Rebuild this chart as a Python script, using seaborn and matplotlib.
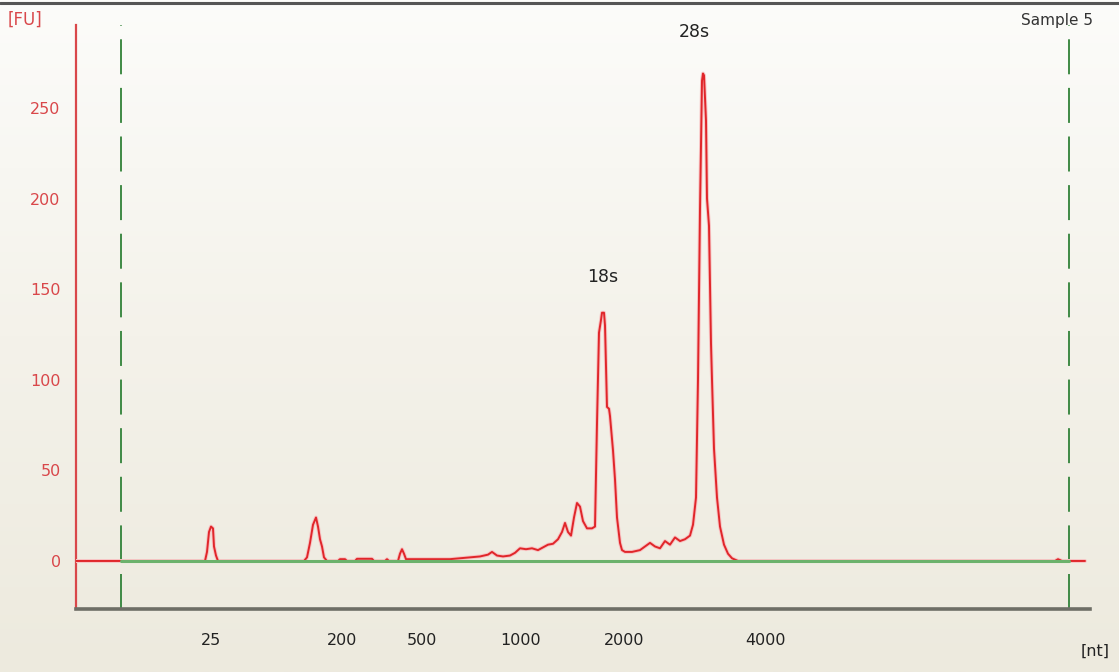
import numpy as np
import pandas as pd
import matplotlib
matplotlib.use("Agg")
import matplotlib.pyplot as plt
import matplotlib.patheffects as pe
from matplotlib.colors import LinearSegmentedColormap
import seaborn as sns

# ---- data (migration time units, fluorescence units) ----
time = [0.0, 12.9, 13.1, 13.3, 13.5, 13.7, 13.8, 14.0, 14.2,
        22.8, 23.1, 23.4, 23.7, 24.0, 24.2, 24.4, 24.6, 24.8, 25.1,
        26.2, 26.4, 26.9, 27.1, 27.9, 28.1, 29.6, 29.8, 30.9, 31.1, 31.3,
        32.2, 32.4, 32.6, 32.8, 33.0, 37.4, 38.4, 39.4, 40.4, 41.2, 41.6, 42.1,
        42.7, 43.4, 43.9, 44.4, 45.0, 45.6, 46.2, 46.7, 47.2, 47.7, 48.2, 48.6,
        48.9, 49.2, 49.5, 49.8, 50.1, 50.4, 50.7, 51.1, 51.6, 51.9,
        52.1, 52.3, 52.5, 52.6, 52.8, 52.9, 53.1, 53.3, 53.4, 53.7, 53.9, 54.1, 54.4, 54.6,
        54.9, 55.6, 56.4, 56.9, 57.4, 57.9, 58.4, 58.9, 59.4, 59.9, 60.4, 60.9, 61.4,
        61.7, 62.0, 62.2, 62.4, 62.6, 62.7, 62.8, 63.0, 63.1, 63.3, 63.5, 63.6, 63.8,
        64.1, 64.4, 64.8, 65.2, 65.6, 66.2, 97.9, 98.2, 98.6, 100.9]
fluorescence = [0, 0, 5, 16, 19, 18, 8, 3, 0,
                0, 2, 10, 20, 24, 19, 12, 8, 2, 0,
                0, 1, 1, 0, 0, 1.2, 1.2, 0, 0, 1, 0,
                0, 4, 6.5, 4, 1, 1, 1.5, 2, 2.5, 3.5, 5, 3,
                2.5, 3, 4.5, 7, 6.5, 7, 6, 7.5, 9, 9.5, 12, 16,
                21, 16, 14, 24, 32, 30, 22, 18, 18, 19,
                76, 126, 133, 137, 137, 130, 85, 84, 80, 61, 45, 24, 10, 6,
                5, 5, 6, 8, 10, 8, 7, 11, 9, 13, 11, 12, 14,
                20, 35, 100, 194, 265, 269, 268, 243, 200, 185, 120, 100, 62,
                35, 19, 9, 4, 1.5, 0, 0, 1, 0, 0]

tick_pos = [13.5, 26.6, 34.6, 44.5, 54.8, 68.9]
tick_labels = ["25", "200", "500", "1000", "2000", "4000"]
y_ticks = [0, 50, 100, 150, 200, 250]
marker_lines = [4.5, 99.3]
peak_labels = ["18s", "28s"]
peak_pos = [(52.7, 152), (61.8, 287)]

df = pd.DataFrame({"time": time, "FU": fluorescence})

sns.set_style("white")
plt.rcParams["font.family"] = ["DejaVu Sans"]

fig = plt.figure(figsize=(11.19, 6.72), dpi=100)

# background gradient
bg = fig.add_axes([0, 0, 1, 1], zorder=-10)
grad = np.linspace(0, 1, 256).reshape(-1, 1)
cmap = LinearSegmentedColormap.from_list("bg", ["#FCFCFA", "#F4F2EA", "#EDEADE"])
bg.imshow(grad, aspect="auto", cmap=cmap, extent=[0, 1, 0, 1])
bg.set_axis_off()
bg.plot([0, 1], [0.995, 0.995], color="#555555", lw=2.2, transform=bg.transAxes)

ax = fig.add_axes([76/1119, 1-609/672, (1090-76)/1119, (609-25)/672])
ax.set_facecolor("none")

for xm in marker_lines:
    ax.axvline(xm, color="#3F8A45", lw=1.4, dashes=(18, 7), zorder=1)

sns.lineplot(data=df, x="time", y="FU", ax=ax, color="#E0262A", lw=1.4,
             zorder=3, estimator=None, sort=False,
             path_effects=[pe.Stroke(linewidth=2.8, foreground="#F8C4C4"), pe.Normal()])

# green baseline between the markers, drawn over the trace
ax.plot(marker_lines, [0, 0], color="#6CB26C", lw=2.2, zorder=4)

ax.set_xlim(0, 101.4)
ax.set_ylim(-26.5, 295.8)
ax.set_xlabel("")
ax.set_ylabel("")

ax.set_xticks(tick_pos)
ax.set_xticklabels(tick_labels, fontsize=11.5, color="#222222")
ax.set_yticks(y_ticks)
ax.set_yticklabels([str(v) for v in y_ticks], fontsize=11.5, color="#D9474A")
ax.tick_params(axis="x", direction="out", length=9, width=1.4, color="#333333", pad=8)
ax.tick_params(axis="y", direction="out", length=8, width=1.2, color="#D9474A", pad=3)

for s in ["top", "right"]:
    ax.spines[s].set_visible(False)
ax.spines["left"].set_color("#D9474A")
ax.spines["left"].set_linewidth(1.6)
ax.spines["bottom"].set_color("#6E6E66")
ax.spines["bottom"].set_linewidth(2.6)

for lab, (px, py) in zip(peak_labels, peak_pos):
    ax.text(px, py, lab, ha="center", va="bottom", fontsize=12.5, color="#222222")

fig.text(8/1119, 1-20/672, "[FU]", fontsize=12, color="#D9474A", va="center", ha="left")
fig.text(1093/1119, 1-20/672, "Sample 5", fontsize=11, color="#333333", va="center", ha="right")
fig.text(1110/1119, 1-651/672, "[nt]", fontsize=11.5, color="#222222", va="center", ha="right")

fig.savefig("out.png", dpi=100, facecolor=fig.get_facecolor())
